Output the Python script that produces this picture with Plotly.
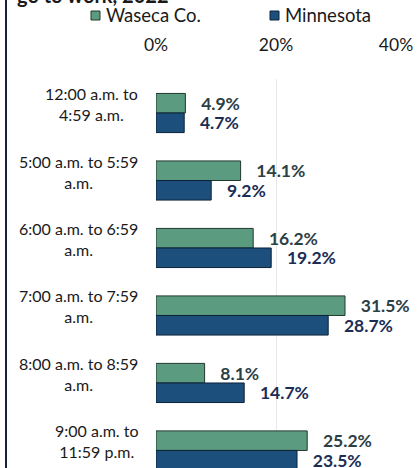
import plotly.graph_objects as go

categories = ["12:00 a.m. to<br>4:59 a.m.", "5:00 a.m. to 5:59<br>a.m.", "6:00 a.m. to 6:59<br>a.m.",
              "7:00 a.m. to 7:59<br>a.m.", "8:00 a.m. to 8:59<br>a.m.", "9:00 a.m. to<br>11:59 p.m."]
series_names = ["Waseca Co.", "Minnesota"]
waseca = [4.9, 14.1, 16.2, 31.5, 8.1, 25.2]
minnesota = [4.7, 9.2, 19.2, 28.7, 14.7, 23.5]
x_ticks = [0, 20, 40]
x_ticklabels = ["0%", "20%", "40%"]
title_text = "go to work, 2022"

W, H = 418, 468
L, R, T, B = 156, 22, 79, 0
PW, PH = W - L - R, H - T - B

def px_x(p):
    return (p - L) / PW

def px_y(p):
    return (H - B - p) / PH

FONT = "Lato"
fill_colors = ["#5b9c80", "#1d4f7c"]
line_colors = ["#22382f", "#0c2238"]
label_colors = ["#2b4046", "#1b2d55"]

ys = list(range(len(categories)))
fig = go.Figure()
for name, vals, fc, lc, tc in zip(series_names, [waseca, minnesota], fill_colors, line_colors, label_colors):
    fig.add_trace(go.Bar(
        y=ys, x=vals, orientation="h", name=name,
        marker=dict(color=fc, line=dict(color=lc, width=1)),
        text=[f"\u00a0\u00a0\u00a0{v:.1f}%" for v in vals],
        textposition="outside", constraintext="none", cliponaxis=False,
        textfont=dict(family=FONT, size=17.5, color=tc, weight="bold"),
        showlegend=False, hoverinfo="skip",
    ))

annotations = []
for i, c in enumerate(categories):
    annotations.append(dict(
        x=px_x(140), xref="paper", y=i, yref="y", text=c, showarrow=False,
        xanchor="right", yanchor="middle", align="center", yshift=9,
        font=dict(family=FONT, size=16, color="#1a1a1a"),
    ))

# legend
leg_sq_x = [91, 270]
for name, fc, lc, sx in zip(series_names, fill_colors, line_colors, leg_sq_x):
    fig.add_shape(type="rect", xref="paper", yref="paper",
                  x0=px_x(sx), x1=px_x(sx + 9), y0=px_y(20), y1=px_y(11),
                  fillcolor=fc, line=dict(color=lc, width=1))
    annotations.append(dict(
        x=px_x(sx + 13), xref="paper", y=px_y(15), yref="paper", text=name,
        showarrow=False, xanchor="left", yanchor="middle",
        font=dict(family=FONT, size=18.5, color="#1a1a1a"),
    ))

annotations.append(dict(
    x=px_x(15), xref="paper", y=px_y(9), yref="paper", text=f"<b>{title_text}</b>",
    showarrow=False, xanchor="left", yanchor="bottom",
    font=dict(family=FONT, size=20, color="#1a1a1a"),
))

fig.add_shape(type="line", xref="paper", yref="paper",
              x0=px_x(6), x1=px_x(6), y0=px_y(468), y1=px_y(0),
              line=dict(color="#15233a", width=2))

fig.update_layout(
    width=W, height=H, margin=dict(l=L, r=R, t=T, b=B, autoexpand=False),
    paper_bgcolor="white", plot_bgcolor="white",
    barmode="group", bargap=0.42, bargroupgap=0,
    showlegend=False, annotations=annotations,
    xaxis=dict(side="top", range=[0, 40], tickvals=x_ticks, ticktext=x_ticklabels,
               showgrid=True, gridcolor="#e8e8e8", gridwidth=1, zeroline=False,
               showline=False, ticks="", ticklabelstandoff=24,
               tickfont=dict(family=FONT, size=17.5, color="#1a1a1a")),
    yaxis=dict(range=[5.26, -0.504], showticklabels=False, showgrid=False,
               zeroline=False, showline=False, ticks=""),
)
fig.write_html("out.html")
